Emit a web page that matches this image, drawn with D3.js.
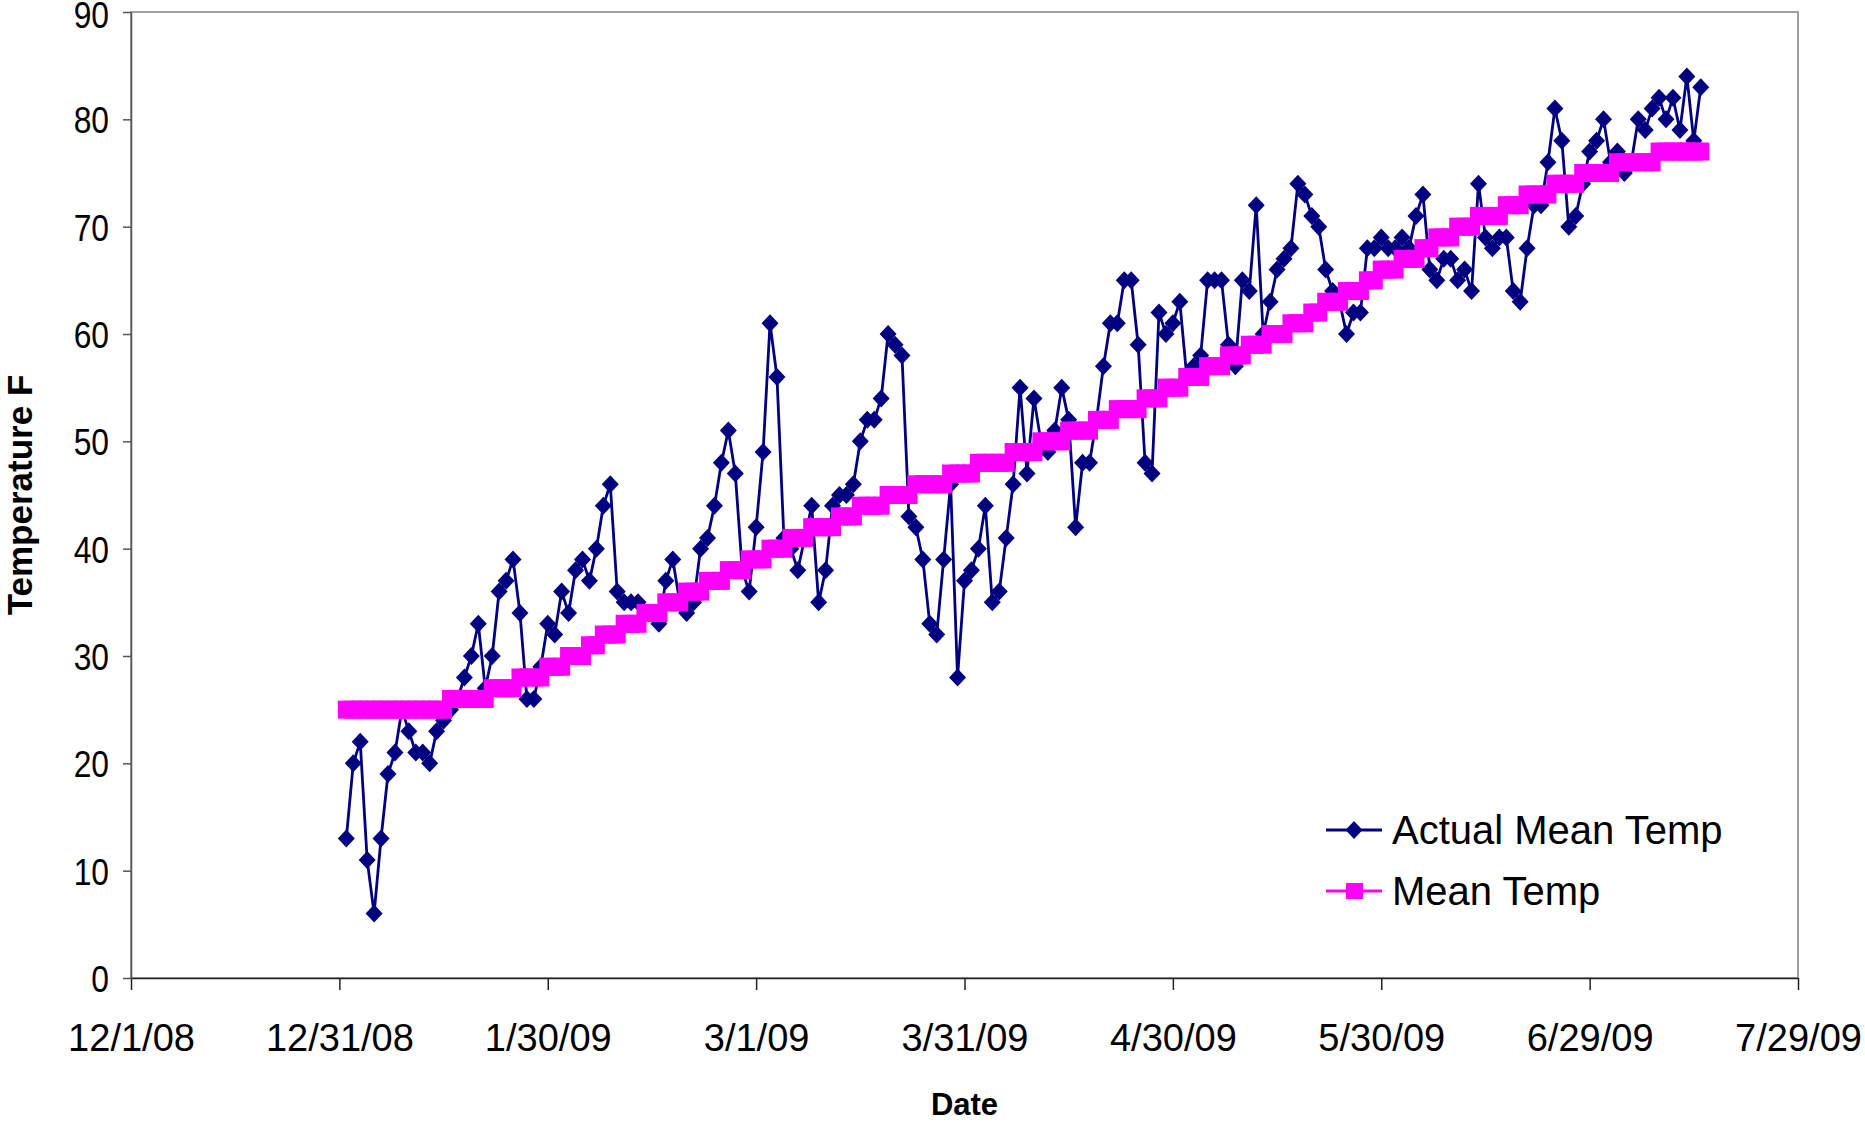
<!DOCTYPE html>
<html>
<head>
<meta charset="utf-8">
<script src="https://cdn.jsdelivr.net/npm/d3@7"></script>
<style>
  body { margin: 0; background: #fff; }
  svg { display: block; font-family: "Liberation Sans", Arial, sans-serif; }
</style>
</head>
<body>
<div id="app"></div>
<script>
// daily readings, first one on 1/1/09
const startDate = "2009-01-01";

const actualTemps = [
  13, 20, 22, 11, 6, 13, 19, 21, 25, 23,
  21, 21, 20, 23, 24, 25, 26, 28, 30, 33,
  27, 30, 36, 37, 39, 34, 26, 26, 29, 33,
  32, 36, 34, 38, 39, 37, 40, 44, 46, 36,
  35, 35, 35, 34, 34, 33, 37, 39, 35, 34,
  35, 40, 41, 44, 48, 51, 47, 38, 36, 42,
  49, 61, 56, 41, 40, 38, 41, 44, 35, 38,
  44, 45, 45, 46, 50, 52, 52, 54, 60, 59,
  58, 43, 42, 39, 33, 32, 39, 46, 28, 37,
  38, 40, 44, 35, 36, 41, 46, 55, 47, 54,
  50, 49, 51, 55, 52, 42, 48, 48, 52, 57,
  61, 61, 65, 65, 59, 48, 47, 62, 60, 61,
  63, 56, 57, 58, 65, 65, 65, 59, 57, 65,
  64, 72, 60, 63, 66, 67, 68, 74, 73, 71,
  70, 66, 64, 63, 60, 62, 62, 68, 68, 69,
  68, 68, 69, 68, 71, 73, 66, 65, 67, 67,
  65, 66, 64, 74, 69, 68, 69, 69, 64, 63,
  68, 72, 72, 76, 81, 78, 70, 71, 74, 77,
  78, 80, 76, 77, 75, 76, 80, 79, 81, 82,
  80, 82, 79, 84, 78, 83
];

const meanTemps = [
  25, 25, 25, 25, 25, 25, 25, 25, 25, 25,
  25, 25, 25, 25, 25, 26, 26, 26, 26, 26,
  26, 27, 27, 27, 27, 28, 28, 28, 28, 29,
  29, 29, 30, 30, 30, 31, 31, 32, 32, 32,
  33, 33, 33, 34, 34, 34, 35, 35, 35, 36,
  36, 36, 37, 37, 37, 38, 38, 38, 39, 39,
  39, 40, 40, 40, 41, 41, 41, 42, 42, 42,
  42, 43, 43, 43, 44, 44, 44, 44, 45, 45,
  45, 45, 46, 46, 46, 46, 46, 47, 47, 47,
  47, 48, 48, 48, 48, 48, 49, 49, 49, 49,
  50, 50, 50, 50, 51, 51, 51, 51, 52, 52,
  52, 53, 53, 53, 53, 54, 54, 54, 55, 55,
  55, 56, 56, 56, 57, 57, 57, 58, 58, 58,
  59, 59, 59, 60, 60, 60, 61, 61, 61, 62,
  62, 63, 63, 63, 64, 64, 64, 65, 65, 66,
  66, 66, 67, 67, 67, 68, 68, 69, 69, 69,
  70, 70, 70, 71, 71, 71, 71, 72, 72, 72,
  73, 73, 73, 73, 74, 74, 74, 74, 75, 75,
  75, 75, 75, 76, 76, 76, 76, 76, 76, 77,
  77, 77, 77, 77, 77, 77
];

const xTickDates = [
  "2008-12-01", "2008-12-31", "2009-01-30", "2009-03-01", "2009-03-31",
  "2009-04-30", "2009-05-30", "2009-06-29", "2009-07-29"
];
const yTicks = [0, 10, 20, 30, 40, 50, 60, 70, 80, 90];
const seriesNames = ["Actual Mean Temp", "Mean Temp"];

const width = 1865;
const height = 1124;
const plotLeft = 131;
const plotRight = 1798;
const plotTop = 12;
const plotBottom = 978;

const parseDate = d3.utcParse("%Y-%m-%d");
const firstDay = parseDate(startDate);
const dates = actualTemps.map((d, i) => d3.utcDay.offset(firstDay, i));
const tickDates = xTickDates.map(parseDate);

const xScale = d3
  .scaleUtc()
  .domain([tickDates[0], tickDates[tickDates.length - 1]])
  .range([plotLeft, plotRight]);

const yScale = d3.scaleLinear().domain([0, 90]).range([plotBottom, plotTop]);

const svg = d3
  .select("#app")
  .append("svg")
  .attr("width", width)
  .attr("height", height);

// plot area frame
svg
  .append("rect")
  .attr("x", plotLeft)
  .attr("y", plotTop)
  .attr("width", plotRight - plotLeft)
  .attr("height", plotBottom - plotTop)
  .attr("fill", "none")
  .attr("stroke", "#808080")
  .attr("stroke-width", 1.5);

const xAxis = d3
  .axisBottom(xScale)
  .tickValues(tickDates)
  .tickSize(12)
  .tickSizeOuter(0)
  .tickFormat(d3.utcFormat("%-m/%-d/%y"));

const yAxis = d3.axisLeft(yScale).tickValues(yTicks).tickSize(8).tickSizeOuter(0);

const gx = svg
  .append("g")
  .attr("transform", `translate(0, ${plotBottom})`)
  .call(xAxis);
gx.selectAll("path, line").attr("stroke", "#222").attr("stroke-width", 1.5);
gx.selectAll("text")
  .attr("y", 46)
  .attr("fill", "#000")
  .style("font-size", "38px");

// the y labels are drawn a little narrow, as in the original
const gy = svg
  .append("g")
  .attr("transform", `translate(${plotLeft}, 0)`)
  .call(yAxis);
gy.selectAll("path, line").attr("stroke", "#555").attr("stroke-width", 1.5);
gy.selectAll("text")
  .attr("x", -22 / 0.86)
  .attr("dy", (d) => (d === 90 ? "0.42em" : "0.36em"))
  .attr("transform", "scale(0.86, 1)")
  .attr("fill", "#000")
  .style("font-size", "37px");

const diamond = "M0,-9L8.5,0L0,9L-8.5,0Z";

const seriesLine = d3
  .line()
  .x((d, i) => xScale(dates[i]))
  .y((d) => yScale(d));

svg
  .append("path")
  .datum(actualTemps)
  .attr("d", seriesLine)
  .attr("fill", "none")
  .attr("stroke", "#000080")
  .attr("stroke-width", 2.8);

svg
  .append("g")
  .selectAll("path")
  .data(actualTemps)
  .enter()
  .append("path")
  .attr("d", diamond)
  .attr("transform", (d, i) => `translate(${xScale(dates[i])}, ${yScale(d)})`)
  .attr("fill", "#000080");

svg
  .append("path")
  .datum(meanTemps)
  .attr("d", seriesLine)
  .attr("fill", "none")
  .attr("stroke", "#ff00ff")
  .attr("stroke-width", 2.8);

svg
  .append("g")
  .selectAll("rect")
  .data(meanTemps)
  .enter()
  .append("rect")
  .attr("x", (d, i) => xScale(dates[i]) - 8.5)
  .attr("y", (d) => yScale(d) - 9)
  .attr("width", 17)
  .attr("height", 18)
  .attr("fill", "#ff00ff");

// axis titles
svg
  .append("text")
  .text("Date")
  .attr("x", (plotLeft + plotRight) / 2)
  .attr("y", 1104)
  .attr("dy", "0.35em")
  .attr("text-anchor", "middle")
  .style("font-size", "31px")
  .style("font-weight", "bold");

svg
  .append("text")
  .text("Temperature F")
  .attr("transform", `translate(20, ${(plotTop + plotBottom) / 2}) rotate(-90)`)
  .attr("dy", "0.35em")
  .attr("text-anchor", "middle")
  .style("font-size", "35px")
  .style("font-weight", "bold");

// legend
const legend = svg.append("g").attr("transform", "translate(1326, 830)");
const colors = ["#000080", "#ff00ff"];

seriesNames.forEach((name, i) => {
  const row = legend.append("g").attr("transform", `translate(0, ${i * 61})`);
  row
    .append("line")
    .attr("x1", 0)
    .attr("x2", 56)
    .attr("stroke", colors[i])
    .attr("stroke-width", 2.8);
  if (i === 0) {
    row.append("path").attr("d", diamond).attr("transform", "translate(28, 0)").attr("fill", colors[i]);
  } else {
    row.append("rect").attr("x", 20).attr("y", -8).attr("width", 17).attr("height", 16).attr("fill", colors[i]);
  }
  row
    .append("text")
    .text(name)
    .attr("x", 66)
    .attr("dy", "0.35em")
    .style("font-size", "40px");
});
</script>
</body>
</html>
